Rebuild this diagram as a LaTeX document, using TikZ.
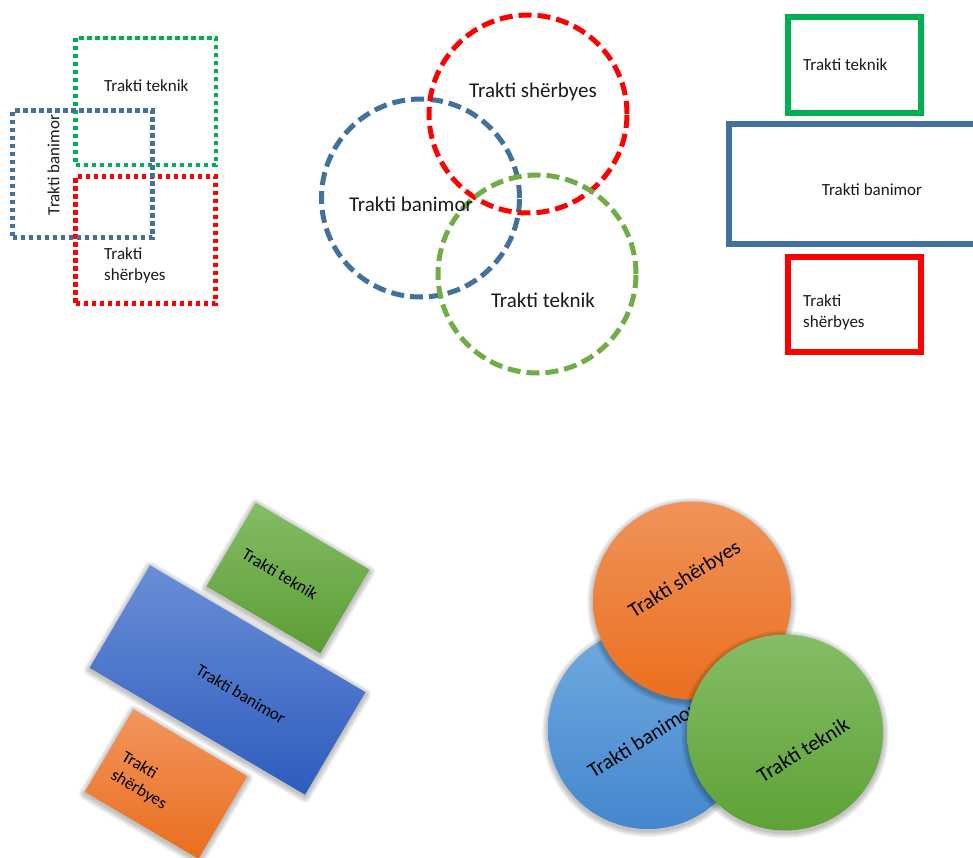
\documentclass[tikz,border=0pt]{standalone}
\usepackage{fontspec}
\setmainfont{Carlito}
\definecolor{txt}{HTML}{1A1A1A}
\definecolor{gdot}{HTML}{00B050}
\definecolor{bdot}{HTML}{41719C}
\definecolor{rdot}{HTML}{FF0000}
\definecolor{gcirc}{HTML}{70AD47}
\definecolor{blueA}{HTML}{6A8ED6}
\definecolor{blueB}{HTML}{2E5CBE}
\definecolor{greenA}{HTML}{84BD66}
\definecolor{greenB}{HTML}{5C9C33}
\definecolor{orA}{HTML}{F1955F}
\definecolor{orB}{HTML}{EA6E1C}
\definecolor{cblA}{HTML}{70AADF}
\definecolor{cblB}{HTML}{4487CE}
\definecolor{corA}{HTML}{F0935A}
\definecolor{corB}{HTML}{EB6F1E}
\definecolor{cgrA}{HTML}{85BD66}
\definecolor{cgrB}{HTML}{5EA236}
\newcommand\softrect[5]{%
  \foreach \i in {1,...,6}{%
    \fill[black, opacity=0.045, shift={(#1,#2+2)}, rotate=#5, rounded corners=\i pt]
      (-#3/2-\i, -#4/2-\i) rectangle (#3/2+\i, #4/2+\i);}}
\newcommand\softcirc[3]{%
  \foreach \i in {1,...,6}{%
    \fill[black, opacity=0.045] (#1,#2+2) circle[radius=#3+\i];}}
\begin{document}
\begin{tikzpicture}[x=1pt,y=-1pt,
  dotbox/.style={draw, line width=4.5pt, dash pattern=on 4.5pt off 3.5pt, inner sep=0},
  dashcirc/.style={draw, circle, line width=5pt, dash pattern=on 13pt off 6pt, minimum size=198pt, inner sep=0},
  solidbox/.style={draw, line width=6pt, inner sep=0},
  lbl/.style={font=\fontsize{17}{21}\selectfont, text=txt, inner sep=0, align=left},
  biglbl/.style={font=\fontsize{21}{25}\selectfont, text=txt, inner sep=0},
  tiltbox/.style={rotate=-30.5, inner sep=0},
  ball/.style={circle, inner sep=0, shading angle=45}]
\useasboundingbox (0,0) rectangle (973,858);
\clip (0,0) rectangle (973,858);

% ---------- panel 1: dotted rectangles ----------
\node[dotbox, gdot, minimum width=140.5pt, minimum height=127pt] (g1) at (145.75,101.5) {};
\node[dotbox, rdot, minimum width=140pt, minimum height=126.6pt] (r1) at (145.7,240) {};
\node[dotbox, bdot, minimum width=140pt, minimum height=127pt] (b1) at (82.7,174.2) {};
\node[lbl, anchor=west] (g1t) at (104,86) {Trakti teknik};
\node[lbl, rotate=90] (b1t) at (53.5,165) {Trakti banimor};
\node[lbl, anchor=west] (r1t) at (104,265) {Trakti\\shërbyes};

% ---------- panel 2: dashed circles ----------
\node[dashcirc, bdot] (b2) at (420.5,198) {};
\node[dashcirc, rdot] (r2) at (528,114) {};
\node[dashcirc, gcirc] (g2) at (537,274) {};
\node[biglbl] (r2t) at (533,92) {Trakti shërbyes};
\node[biglbl] (b2t) at (411,204) {Trakti banimor};
\node[biglbl] (g2t) at (543,300) {Trakti teknik};

% ---------- panel 3: solid rectangles ----------
\node[solidbox, gdot, minimum width=132.5pt, minimum height=96pt] (g3) at (854.25,65) {};
\node[solidbox, bdot, minimum width=271pt, minimum height=120pt] (b3) at (864.5,184) {};
\node[solidbox, rdot, minimum width=132.5pt, minimum height=95.3pt] (r3) at (854.25,304.7) {};
\node[lbl, anchor=west] (g3t) at (803,64.5) {Trakti teknik};
\node[lbl] (b3t) at (872,190) {Trakti banimor};
\node[lbl, anchor=west] (r3t) at (803,312.5) {Trakti\\shërbyes};

% ---------- panel 4: tilted filled rectangles ----------
\softrect{288}{578}{132}{97}{-30.5}
\node[tiltbox, top color=greenA, bottom color=greenB, minimum width=132pt, minimum height=97pt] (g4) at (288,578) {};
\softrect{227.5}{680}{250}{119}{-30.5}
\node[tiltbox, top color=blueA, bottom color=blueB, minimum width=250pt, minimum height=119pt] (b4) at (227.5,680) {};
\softrect{166}{784}{132}{96}{-30.5}
\node[tiltbox, top color=orA, bottom color=orB, minimum width=132pt, minimum height=96pt] (o4) at (166,784) {};
\node[lbl, text=black, rotate=-30.5] (g4t) at (280,574) {Trakti teknik};
\node[lbl, text=black, rotate=-30.5] (b4t) at (241,694) {Trakti banimor};
\node[lbl, text=black, rotate=-30.5] (o4t) at (144,781) {Trakti\\shërbyes};

% ---------- panel 5: filled circles ----------
\softcirc{648}{729}{100}
\node[ball, top color=cblA, bottom color=cblB, minimum size=200pt] (b5) at (648,729) {};
\node[biglbl, text=black, rotate=32] (b5t) at (642,740) {Trakti banimor};
\softcirc{692}{600.5}{99}
\node[ball, top color=corA, bottom color=corB, minimum size=198pt] (o5) at (692,600.5) {};
\node[biglbl, text=black, rotate=32] (o5t) at (685,580) {Trakti shërbyes};
\softcirc{785}{732.5}{98}
\node[ball, top color=cgrA, bottom color=cgrB, minimum size=196pt] (g5) at (785,732.5) {};
\node[biglbl, text=black, rotate=32] (g5t) at (803,750) {Trakti teknik};
\end{tikzpicture}
\end{document}
